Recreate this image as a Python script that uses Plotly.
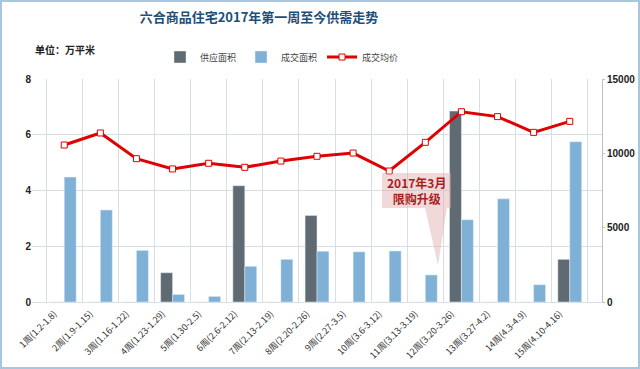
import plotly.graph_objects as go

weeks = ["1周(1.2-1.8)", "2周(1.9-1.15)", "3周(1.16-1.22)", "4周(1.23-1.29)", "5周(1.30-2.5)",
         "6周(2.6-2.12)", "7周(2.13-2.19)", "8周(2.20-2.26)", "9周(2.27-3.5)", "10周(3.6-3.12)",
         "11周(3.13-3.19)", "12周(3.20-3.26)", "13周(3.27-4.2)", "14周(4.3-4.9)", "15周(4.10-4.16)"]
supply = [0, 0, 0, 1.05, 0, 4.17, 0, 3.1, 0, 0, 0, 6.85, 0, 0, 1.53]
sales = [4.48, 3.3, 1.85, 0.27, 0.2, 1.28, 1.53, 1.82, 1.8, 1.83, 0.97, 2.95, 3.7, 0.62, 5.75]
price = [10560, 11370, 9640, 8950, 9330, 9060, 9480, 9800, 10020, 8810, 10740, 12800, 12470, 11410, 12150]
price_ticks = [0, 5000, 10000, 15000]

W, H = 640, 369
L, R, T, B = 32, 38, 79, 67
pw, ph = W - L - R, H - T - B

def px(x):
    return (x - L) / pw

def py(y):
    return (H - B - y) / ph

font = "Noto Sans CJK SC, Noto Sans, sans-serif"
numfont = "Liberation Sans, Arial, sans-serif"

fig = go.Figure()
fig.add_trace(go.Bar(x=weeks, y=supply, name="供应面积", marker_color="#5F6A72"))
fig.add_trace(go.Bar(x=weeks, y=sales, name="成交面积", marker_color="#7FB0D6"))
fig.add_trace(go.Scatter(x=weeks, y=price, name="成交均价", yaxis="y2", mode="lines+markers",
                         line=dict(color="#E00000", width=3),
                         marker=dict(symbol="square", size=6, color="white",
                                     line=dict(color="#E00000", width=1))))

fig.update_layout(
    width=W, height=H,
    margin=dict(l=L, r=R, t=T, b=B, autoexpand=False),
    paper_bgcolor="white", plot_bgcolor="white",
    font=dict(family=font, size=10, color="#333333"),
    barmode="group", bargap=0.34, bargroupgap=0,
    showlegend=True,
    legend=dict(orientation="h", x=px(160), y=py(57), xanchor="left", yanchor="middle",
                font=dict(size=9, color="#444444"), bgcolor="rgba(0,0,0,0)",
                itemwidth=30),
    title=dict(text="<b>六合商品住宅2017年第一周至今供需走势</b>", x=259 / W, xanchor="center",
               y=1 - 17 / H, yanchor="middle", font=dict(size=13, color="#1F4E79", family=font)),
    xaxis=dict(type="category", tickangle=-45, tickson="boundaries", showgrid=True, automargin=False,
               gridcolor="#D6DEE6", gridwidth=1, ticks="", showline=True, linecolor="#D6DEE6",
               ticklabelshift=-10, ticklabelstandoff=2,
               tickfont=dict(size=9, color="#333333")),
    yaxis=dict(range=[0, 8], dtick=2, showgrid=True, gridcolor="#D6DEE6", zeroline=False,
               automargin=False,
               showline=False, tickfont=dict(size=10, color="#222222", family=numfont),
               tickprefix="<b>", ticksuffix="</b>"),
    yaxis2=dict(range=[0, 15000], tickvals=price_ticks, ticktext=[f"<b>{v}</b>" for v in price_ticks],
                overlaying="y", side="right", showgrid=False, automargin=False,
                zeroline=False, showline=True, linecolor="#BFBFBF", ticks="outside",
                ticklen=2, tickcolor="#BFBFBF",
                tickfont=dict(size=10, color="#222222", family=numfont)),
)

# unit label
fig.add_annotation(text="<b>单位：万平米</b>", xref="paper", yref="paper", x=px(33), y=py(49),
                   xanchor="left", yanchor="middle", showarrow=False,
                   font=dict(size=10, color="#222222", family=font))

callout_fill = "rgba(226,170,170,0.45)"
# callout wedge
fig.add_shape(type="path", xref="paper", yref="paper",
              path=f"M {px(425)} {py(208)} L {px(438)} {py(265)} L {px(447)} {py(208)} Z",
              fillcolor=callout_fill, line=dict(width=0), layer="above")
# callout box
fig.add_shape(type="rect", xref="paper", yref="paper", x0=px(382), x1=px(451), y0=py(208), y1=py(173),
              fillcolor=callout_fill, line=dict(width=0), layer="above")
fig.add_annotation(text="<b>2017年3月<br>限购升级</b>", xref="paper", yref="paper", x=px(416), y=py(190),
                   xanchor="center", yanchor="middle", showarrow=False,
                   font=dict(size=12, color="#A81E1E", family=font))

# outer border
fig.add_shape(type="rect", xref="paper", yref="paper", x0=px(1), x1=px(639), y0=py(368), y1=py(1),
              line=dict(color="#A9C6E0", width=2), fillcolor="rgba(0,0,0,0)", layer="above")

fig.write_html("out.html", config={"displayModeBar": False},
               post_script="document.body.style.margin='0';document.body.style.overflow='hidden';")
